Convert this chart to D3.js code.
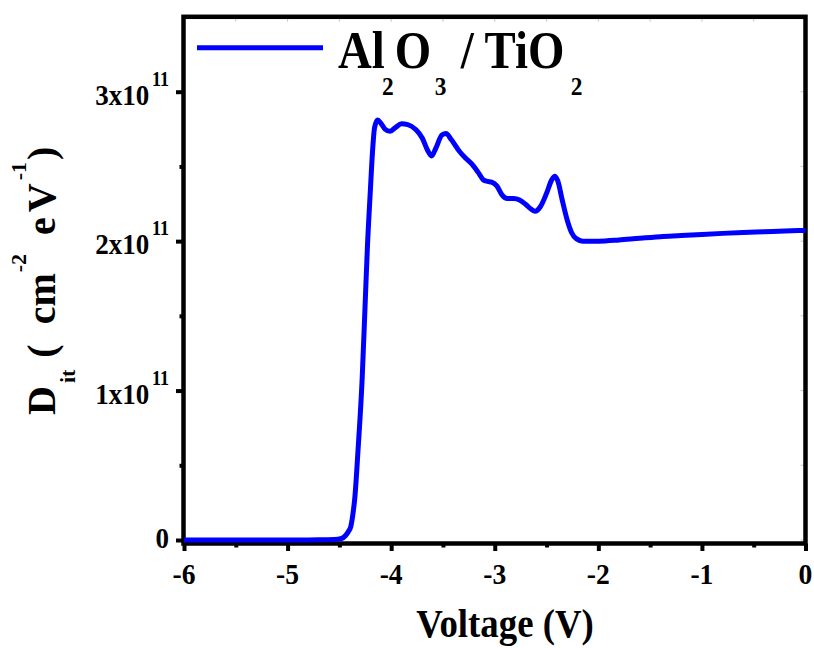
<!DOCTYPE html>
<html>
<head>
<meta charset="utf-8">
<script src="https://cdn.jsdelivr.net/npm/d3@7"></script>
<style>
  body { margin: 0; background: #fff; }
  svg { display: block; }
</style>
</head>
<body>
<svg id="chart" width="814" height="648"></svg>
<script>
// Interface trap density vs. gate voltage, Dit in units of 1e11 per cm2 per eV
const voltage = [
  -6.00, -5.50, -5.00, -4.70, -4.55, -4.48, -4.44, -4.41, -4.39, -4.37,
  -4.35, -4.32, -4.28, -4.25, -4.23, -4.20, -4.18, -4.16, -4.13, -4.10,
  -4.06, -4.01, -3.96, -3.90, -3.84, -3.76, -3.70, -3.65, -3.61, -3.57,
  -3.51, -3.47, -3.42, -3.34, -3.28, -3.22, -3.16, -3.11, -3.07, -3.03,
  -2.98, -2.93, -2.88, -2.82, -2.76, -2.70, -2.65, -2.61, -2.56, -2.50,
  -2.45, -2.42, -2.39, -2.35, -2.30, -2.26, -2.21, -2.15, -2.00, -1.80,
  -1.60, -1.40, -1.20, -1.00, -0.80, -0.60, -0.40, -0.20, 0.00
];
const dit = [
  0.000, 0.000, 0.000, 0.001, 0.003, 0.010, 0.030, 0.060, 0.090, 0.170,
  0.290, 0.600, 1.080, 1.600, 1.950, 2.350, 2.600, 2.760, 2.810, 2.790,
  2.750, 2.735, 2.760, 2.785, 2.780, 2.745, 2.690, 2.610, 2.570, 2.620,
  2.710, 2.720, 2.680, 2.600, 2.555, 2.515, 2.460, 2.410, 2.400, 2.395,
  2.370, 2.310, 2.285, 2.285, 2.275, 2.245, 2.215, 2.200, 2.230, 2.320,
  2.410, 2.435, 2.400, 2.280, 2.140, 2.060, 2.015, 2.000, 2.000, 2.008,
  2.020, 2.030, 2.037, 2.045, 2.052, 2.058, 2.063, 2.068, 2.072
];
const xTicks = [-6, -5, -4, -3, -2, -1, 0];
const xMinorTicks = [-5.5, -4.5, -3.5, -2.5, -1.5, -0.5];
const yTicks = [0, 1, 2, 3];
const yMinorTicks = [0.5, 1.5, 2.5];
const yTickMantissa = ["0", "1x10", "2x10", "3x10"];
const yTickExponent = ["", "11", "11", "11"];
const seriesName = ["Al", "2", "O", "3", " / TiO", "2"]; // alternating normal / subscript

const F = '"Liberation Serif"';
const svg = d3.select("#chart");
const x = d3.scaleLinear().domain([-6, 0]).range([184, 805.5]);
const y = d3.scaleLinear().domain([0, 3.5]).range([540, 17]);

const blue = "#0000ff";
const frameLeft = 183.5, frameRight = 805.5, frameTop = 16.8, frameBottom = 543.5;

// faint inner ticks along top and right edges
const inner = svg.append("g").attr("stroke", "#c8c8c8").attr("stroke-width", 1);
inner.selectAll("line.t").data(xTicks.concat(xMinorTicks)).join("line")
  .attr("x1", d => x(d)).attr("x2", d => x(d))
  .attr("y1", frameTop).attr("y2", frameTop + 5);
inner.selectAll("line.r").data(yTicks.concat(yMinorTicks)).join("line")
  .attr("y1", d => y(d)).attr("y2", d => y(d))
  .attr("x1", frameRight).attr("x2", frameRight - 5);

function styleAxis(g) {
  g.select(".domain").remove();
  g.selectAll(".tick line").attr("stroke", "#000").attr("stroke-width", 4);
  g.selectAll(".tick text").remove();
  g.attr("font-family", null).attr("font-size", null);
}
// bottom axis ticks
svg.append("g").attr("transform", `translate(0,${frameBottom})`)
  .call(d3.axisBottom(x).tickValues(xTicks).tickSize(7.5).tickFormat(""))
  .call(styleAxis);
svg.append("g").attr("transform", `translate(0,${frameBottom})`)
  .call(d3.axisBottom(x).tickValues(xMinorTicks).tickSize(4).tickFormat(""))
  .call(styleAxis);
// left axis ticks
svg.append("g").attr("transform", `translate(${frameLeft},0)`)
  .call(d3.axisLeft(y).tickValues(yTicks).tickSize(7.5).tickFormat(""))
  .call(styleAxis);
svg.append("g").attr("transform", `translate(${frameLeft},0)`)
  .call(d3.axisLeft(y).tickValues(yMinorTicks).tickSize(4).tickFormat(""))
  .call(styleAxis);

// plot frame
svg.append("rect")
  .attr("x", frameLeft).attr("y", frameTop)
  .attr("width", frameRight - frameLeft).attr("height", frameBottom - frameTop)
  .attr("fill", "none").attr("stroke", "#000").attr("stroke-width", 4.5);

// data curve
const line = d3.line()
  .x((d, i) => x(voltage[i]))
  .y(d => y(d))
  .curve(d3.curveMonotoneX);
svg.append("path")
  .datum(dit)
  .attr("d", line)
  .attr("fill", "none")
  .attr("stroke", blue)
  .attr("stroke-width", 5)
  .attr("stroke-linejoin", "round");

// all labels live in one group
const labels = svg.append("g");

// x tick labels
xTicks.forEach(v => {
  labels.append("text")
    .attr("transform", `translate(${x(v)},584) scale(0.92,1)`)
    .attr("text-anchor", "middle")
    .style("font-family", F).attr("font-weight", "bold").attr("font-size", 30)
    .text(String(v));
});

// y tick labels with exponent
yTicks.forEach((v, i) => {
  const hasExp = !!yTickExponent[i];
  const t = labels.append("text")
    .attr("transform", `translate(169,${y(v) + (hasExp ? 13 : 8)}) scale(0.9,1)`)
    .attr("text-anchor", "end")
    .style("font-family", F).attr("font-weight", "bold").attr("font-size", 30);
  t.append("tspan").text(yTickMantissa[i]);
  if (hasExp) {
    t.append("tspan").attr("dx", 3).attr("dy", -19).attr("font-size", 20).text(yTickExponent[i]);
  }
});

// x axis title
labels.append("text")
  .attr("transform", "translate(505,637) scale(0.92,1)")
  .attr("text-anchor", "middle")
  .style("font-family", F).attr("font-weight", "bold").attr("font-size", 40)
  .text("Voltage (V)");

// y axis title (rotated, reads bottom to top)
const yt = labels.append("text")
  .attr("transform", "translate(55,415) rotate(-90)")
  .style("font-family", F).attr("font-weight", "bold").attr("font-size", 40);
yt.append("tspan").text("D");
yt.append("tspan").attr("dx", 3).attr("dy", 20).attr("font-size", 22).text("it");
yt.append("tspan").attr("dx", 12).attr("dy", -20).text("(");
yt.append("tspan").attr("dx", 20).text("cm");
yt.append("tspan").attr("dx", 1).attr("dy", -29).attr("font-size", 22).text("-2");
yt.append("tspan").attr("dx", 19).attr("dy", 29).text("e");
yt.append("tspan").attr("dx", 5).text("V");
yt.append("tspan").attr("dx", 3).attr("dy", -29).attr("font-size", 22).text("-1");
yt.append("tspan").attr("dx", 2).attr("dy", 29).text(")");

// legend
svg.append("line")
  .attr("x1", 197).attr("x2", 323).attr("y1", 47.7).attr("y2", 47.7)
  .attr("stroke", blue).attr("stroke-width", 5);
const legendGap = [0, -3, 1, 4, 3, 7];
const lg = labels.append("text")
  .attr("transform", "translate(338,68) scale(0.9,1)")
  .style("font-family", F).attr("font-weight", "bold").attr("font-size", 52)
  .style("white-space", "pre");
seriesName.forEach((s, i) => {
  const sub = i % 2 === 1;
  lg.append("tspan")
    .attr("dx", legendGap[i])
    .attr("dy", i === 0 ? 0 : (sub ? 27 : -27))
    .attr("font-size", sub ? 26 : 52)
    .text(s);
});
</script>
</body>
</html>
